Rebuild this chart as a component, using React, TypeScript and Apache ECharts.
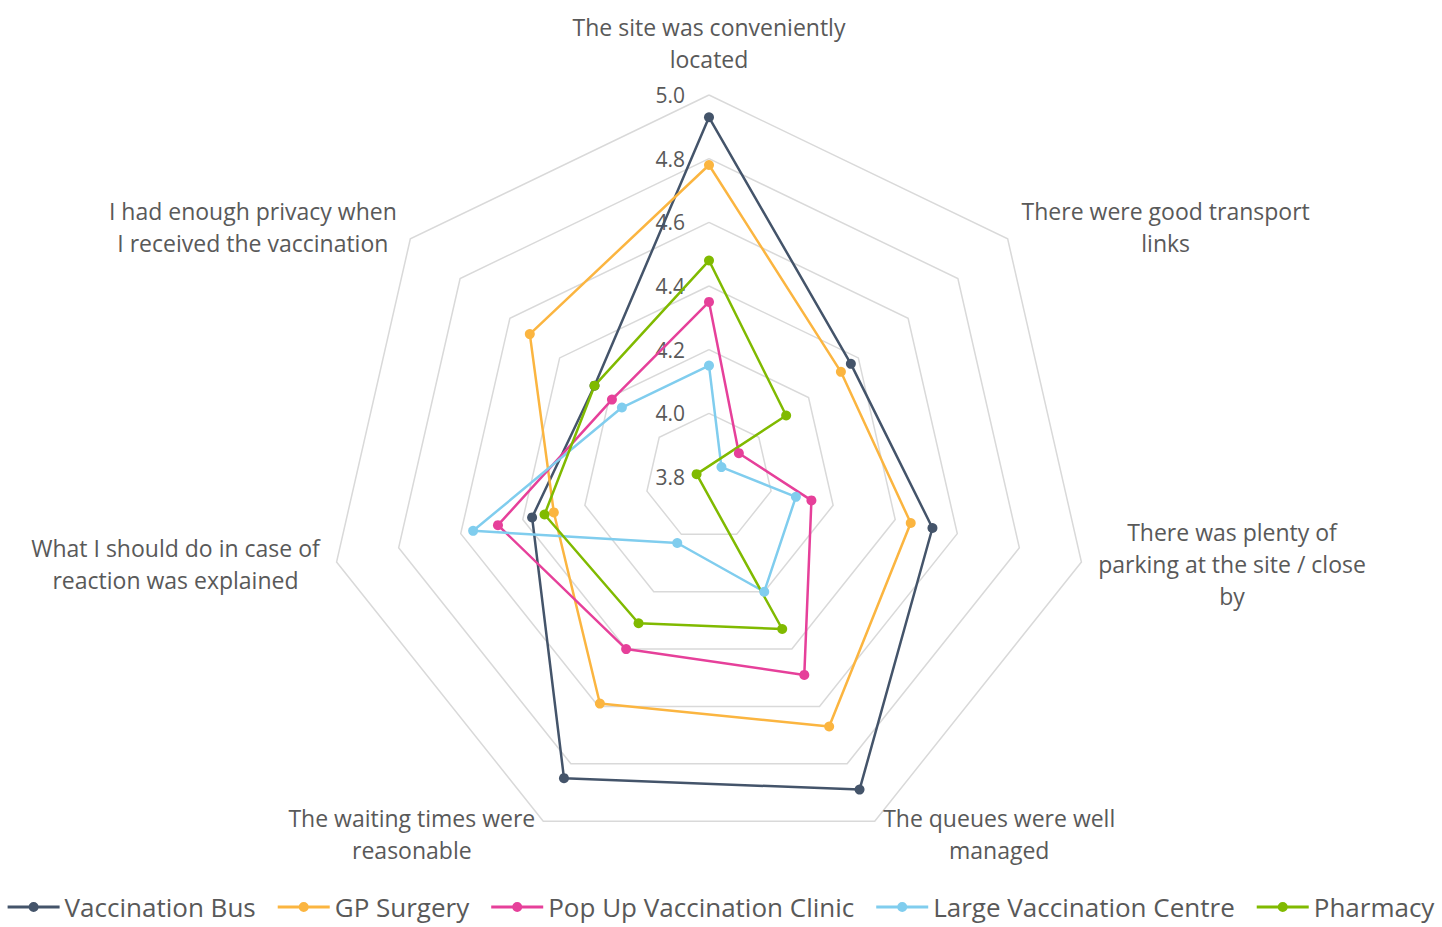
import React, { useEffect, useRef } from "react";
import * as echarts from "echarts";

// Statements, clockwise from the top of the radar.
const categories = [
  "The site was conveniently\nlocated",
  "There were good transport\nlinks",
  "There was plenty of\nparking at the site / close\nby",
  "The queues were well\nmanaged",
  "The waiting times were\nreasonable",
  "What I should do in case of\nreaction was explained",
  "I had enough privacy when\nI received the vaccination",
];

// Scale of every spoke: 3.8 at the centre to 5.0 at the rim, in steps of 0.2.
const scaleMin = 3.8;
const scaleMax = 5.0;
const scaleSplits = 6;

const seriesNames = [
  "Vaccination Bus",
  "GP Surgery",
  "Pop Up Vaccination Clinic",
  "Large Vaccination Centre",
  "Pharmacy",
];

// Mean agreement scores, same order as categories.
const vaccinationBus = [4.93, 4.37, 4.52, 4.89, 4.85, 4.37, 4.26];
const gpSurgery = [4.78, 4.33, 4.45, 4.67, 4.59, 4.3, 4.52];
const popUpClinic = [4.35, 3.92, 4.13, 4.49, 4.4, 4.48, 4.19];
const largeCentre = [4.15, 3.85, 4.08, 4.2, 4.03, 4.56, 4.15];
const pharmacy = [4.48, 4.11, 3.76, 4.33, 4.31, 4.33, 4.26];

const seriesColors = ["#44546a", "#fbb540", "#e6409a", "#80cdee", "#80ba00"];

// ECharts places radar indicators counter-clockwise, so feed them in reverse after the first.
const radarOrder = [0, 6, 5, 4, 3, 2, 1];

const textColor = "#595959";
const fontFamily = '"Open Sans", sans-serif';

// Legend marker: a short line with a dot in the middle.
const legendIcon =
  "path://M0 3.5H52V6.5H0Z M21 5A5 5 0 1 1 31 5A5 5 0 1 1 21 5Z";

export default function App() {
  const ref = useRef<HTMLDivElement>(null);

  useEffect(() => {
    if (!ref.current) return;
    const chart = echarts.init(ref.current, null, { renderer: "svg" });

    const nameSize = 23;
    const ctx = document.createElement("canvas").getContext("2d");
    const rich: Record<string, any> = {};
    categories.forEach((c, i) => {
      let w = 200;
      if (ctx) {
        ctx.font = `${nameSize}px "Open Sans"`;
        w = Math.max(...c.split("\n").map((l) => ctx.measureText(l).width));
      }
      rich["n" + i] = {
        width: Math.ceil(w) + 2,
        align: "center",
        fontSize: nameSize,
        fontFamily,
        color: textColor,
        lineHeight: 32,
        padding: [0, 0, 3, 0],
      };
    });

    const indicator = radarOrder.map((k, j) => {
      const ind: any = { name: categories[k], min: scaleMin, max: scaleMax };
      if (j === 0) {
        ind.nameGap = 19;
        ind.axisLabel = {
          show: true,
          margin: 24,
          fontSize: 21,
          fontFamily,
          color: textColor,
          formatter: (v: number) => Number(v).toFixed(1),
        };
      }
      return ind;
    });

    const values = [vaccinationBus, gpSurgery, popUpClinic, largeCentre, pharmacy];

    chart.setOption({
      animation: false,
      backgroundColor: "#ffffff",
      legend: {
        left: "center",
        top: 887,
        itemWidth: 52,
        itemHeight: 10,
        itemGap: 22,
        textStyle: { fontSize: 26, fontFamily, color: textColor, lineHeight: 30 },
        data: seriesNames.map((n, s) => ({
          name: n,
          icon: legendIcon,
          itemStyle: { color: seriesColors[s], borderWidth: 0 },
        })),
      },
      radar: {
        center: [709, 477],
        radius: 382,
        startAngle: 90,
        shape: "polygon",
        splitNumber: scaleSplits,
        nameGap: 16,
        axisName: {
          fontSize: nameSize,
          fontFamily,
          color: textColor,
          lineHeight: 32,
          rich,
          formatter: (name: string) => {
            const i = categories.indexOf(name);
            return name
              .split("\n")
              .map((l) => `{n${i}|${l}}`)
              .join("\n");
          },
        },
        axisLine: { show: false },
        axisTick: { show: false },
        axisLabel: { show: false },
        splitArea: { show: false },
        splitLine: { lineStyle: { color: "#d9d9d9", width: 1.5 } },
        indicator,
      },
      series: [
        {
          type: "radar",
          symbol: "circle",
          symbolSize: 10,
          data: seriesNames.map((n, s) => ({
            name: n,
            value: radarOrder.map((k) => values[s][k]),
            lineStyle: { color: seriesColors[s], width: 2.5 },
            itemStyle: { color: seriesColors[s] },
          })),
        },
      ],
    });

    return () => chart.dispose();
  }, []);

  return (
    <div
      ref={ref}
      style={{ position: "absolute", left: 0, top: 0, width: 1442, height: 927 }}
    />
  );
}
